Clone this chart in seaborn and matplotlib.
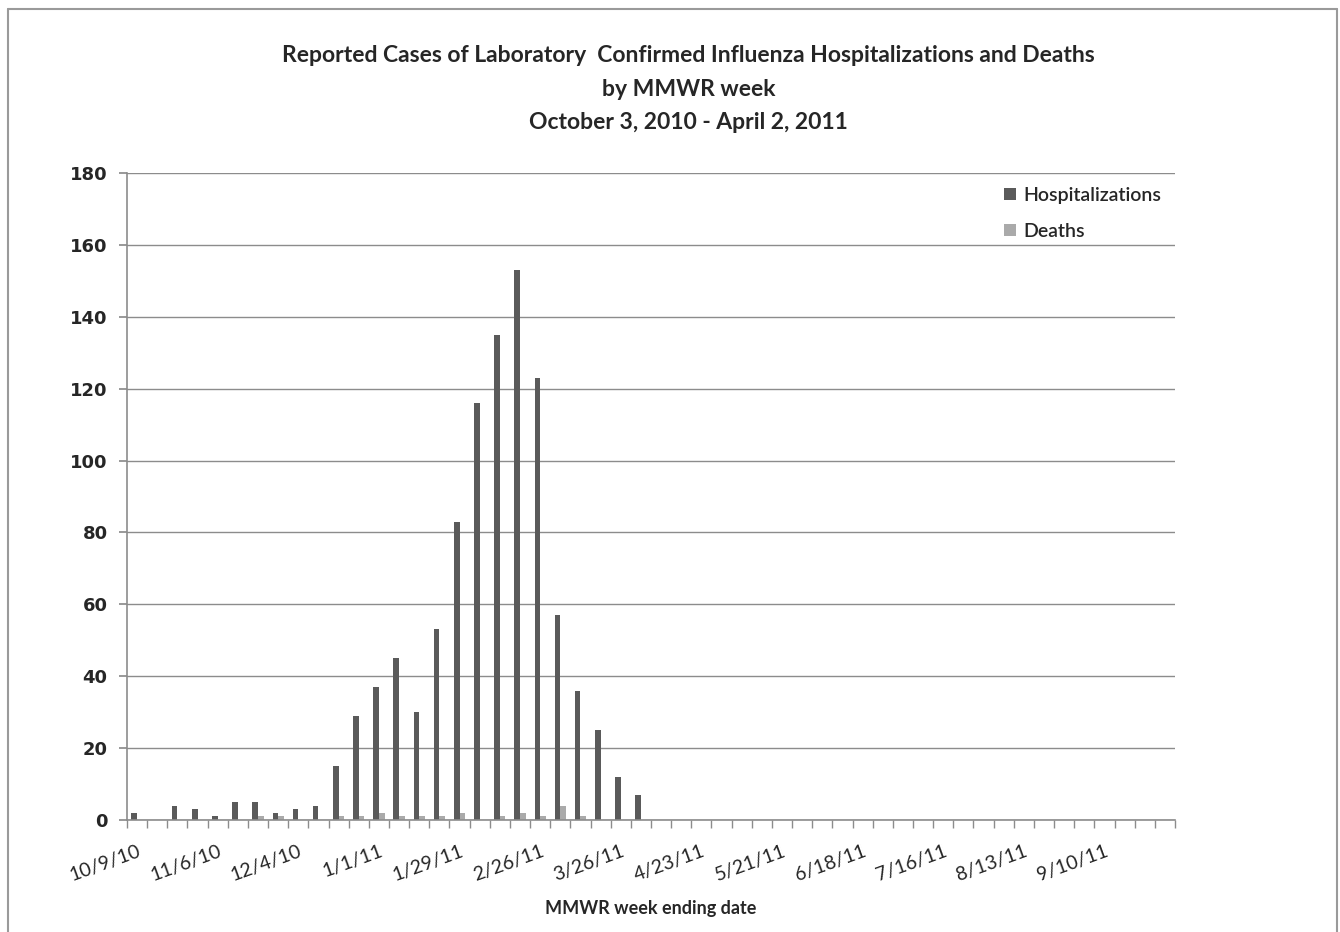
import pandas as pd
import matplotlib
matplotlib.use("Agg")
import matplotlib.pyplot as plt
from matplotlib.lines import Line2D
import seaborn as sns

# --- data (weekly, MMWR week ending date) ---
weeks = pd.date_range("2010-10-09", periods=52, freq="7D")
week_labels = [f"{d.month}/{d.day}/{d.year % 100}" for d in weeks]

hospitalizations = [2, 0, 4, 3, 1, 5, 5, 2, 3, 4, 15, 29, 37, 45, 30, 53,
                    83, 116, 135, 153, 123, 57, 36, 25, 12, 7] + [0] * 26
deaths = [0, 0, 0, 0, 0, 0, 1, 1, 0, 0, 1, 1, 2, 1, 1, 1,
          2, 0, 1, 2, 1, 4, 1, 0, 0, 0] + [0] * 26

df = pd.DataFrame({
    "week": week_labels * 2,
    "count": hospitalizations + deaths,
    "series": ["Hospitalizations"] * 52 + ["Deaths"] * 52,
})

sns.set_theme(style="white")
plt.rcParams["font.family"] = ["Lato", "DejaVu Sans"]

fig = plt.figure(figsize=(13.4, 9.32), dpi=100)
ax = fig.add_axes([127 / 1340, 1 - 820 / 932, (1175 - 127) / 1340, (820 - 173) / 932])

sns.barplot(data=df, x="week", y="count", hue="series", order=week_labels,
            palette={"Hospitalizations": "#5a5a5a", "Deaths": "#aaaaaa"},
            width=0.56, dodge=True, gap=0, ax=ax, saturation=1, legend=True,
            linewidth=0, edgecolor="none")

# axes styling (Excel look)
ax.set_xlim(-0.5, 51.5)
ax.set_ylim(0, 180)
ax.set_yticks(range(0, 181, 20))
ax.yaxis.grid(True, color="#8c8c8c", linewidth=1.0)
ax.set_axisbelow(True)
for side in ["top", "right"]:
    ax.spines[side].set_visible(False)
for side in ["left", "bottom"]:
    ax.spines[side].set_color("#8c8c8c")
    ax.spines[side].set_linewidth(1.2)
ax.tick_params(axis="y", which="major", left=True, length=6, color="#8c8c8c",
               labelsize=13, pad=8)
for lab in ax.get_yticklabels():
    lab.set_fontweight("bold")
    lab.set_family(["DejaVu Sans"])

# category labels every 4 weeks, tick marks between categories
label_pos = list(range(0, 52, 4))
ax.set_xticks(label_pos)
ax.set_xticklabels([week_labels[i] for i in label_pos], rotation=20,
                   ha="right", rotation_mode="anchor", fontsize=14)
ax.tick_params(axis="x", which="major", bottom=False, pad=10)
ax.set_xticks([i - 0.5 for i in range(53)], minor=True)
ax.tick_params(axis="x", which="minor", bottom=True, length=6, color="#8c8c8c")

ax.set_xlabel("MMWR week ending date", fontsize=13, fontweight="bold", labelpad=12)
ax.set_ylabel("")

leg = ax.legend(loc="upper right", bbox_to_anchor=(1.0, 1.0), frameon=False,
                fontsize=14, handlelength=0.6, handleheight=0.6,
                labelspacing=1.0, handletextpad=0.4, borderaxespad=0.3)
for t in leg.get_texts():
    t.set_fontweight("semibold")

fig.text(0.514, 1 - 89 / 932, "Reported Cases of Laboratory  Confirmed Influenza Hospitalizations and Deaths\nby MMWR week\nOctober 3, 2010 - April 2, 2011",
         ha="center", va="center", fontsize=16.5, fontweight="bold",
         linespacing=1.75)

# chart area border
border = dict(color="#9a9a9a", linewidth=1.5, transform=fig.transFigure)
fig.add_artist(Line2D([8 / 1340, 8 / 1340], [0, 1 - 9 / 932], **border))
fig.add_artist(Line2D([8 / 1340, 1337 / 1340], [1 - 9 / 932, 1 - 9 / 932], **border))
fig.add_artist(Line2D([1337 / 1340, 1337 / 1340], [0, 1 - 9 / 932], **border))

fig.savefig("out.png", dpi=100)
